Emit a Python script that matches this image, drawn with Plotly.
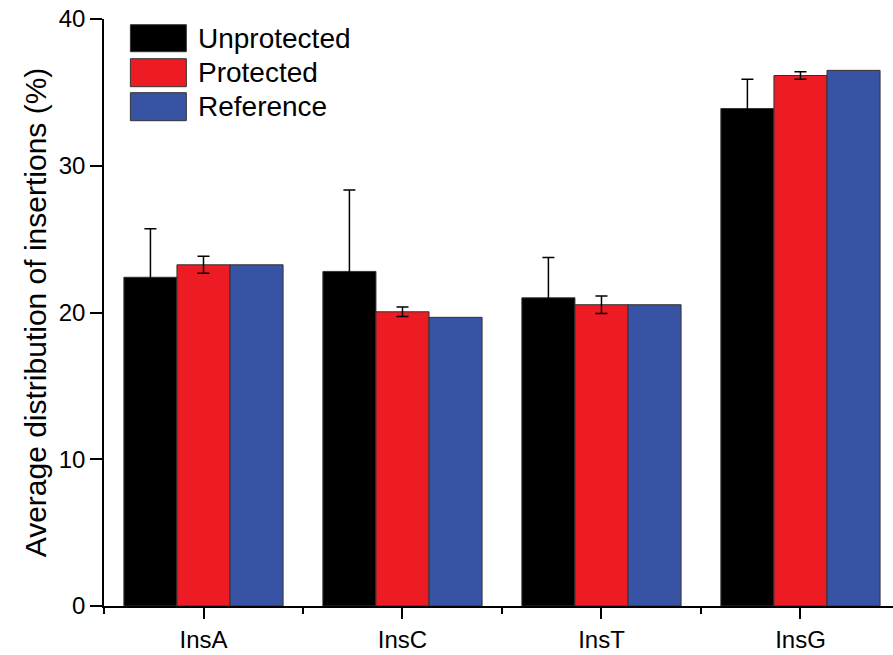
import plotly.graph_objects as go

categories = ["InsA", "InsC", "InsT", "InsG"]
series_names = ["Unprotected", "Protected", "Reference"]
unprotected = [22.4, 22.8, 21.0, 33.9]
unprotected_err = [3.3, 5.55, 2.75, 2.0]
protected = [23.25, 20.05, 20.53, 36.15]
protected_err = [0.58, 0.32, 0.6, 0.25]
reference = [23.25, 19.67, 20.53, 36.5]
y_ticks = [0, 10, 20, 30, 40]

colors = ["#000000", "#ED1C24", "#3953A4"]
W, H = 893, 655
L, R, T, B = 103.6, 893, 19.3, 606.3

xpos = list(range(len(categories)))

fig = go.Figure()
vals = [unprotected, protected, reference]
errs = [unprotected_err, protected_err, None]
for name, v, e, c in zip(series_names, vals, errs, colors):
    kw = {}
    if e is not None:
        kw["error_y"] = dict(type="data", array=e, visible=True, color="#000000",
                             thickness=1.5, width=6)
    fig.add_trace(go.Bar(x=xpos, y=v, name=name, marker=dict(color=c, line=dict(color="#333333", width=1)),
                         showlegend=False, **kw))

def px(x):
    return (x - L) / (R - L)

def py(y):
    return (B - y) / (B - T)

# custom legend
rows = [(25, 52), (59, 87), (93, 121)]
for (y0, y1), name, c in zip(rows, series_names, colors):
    fig.add_shape(type="rect", xref="paper", yref="paper", x0=px(130), x1=px(186),
                  y0=py(y1), y1=py(y0), fillcolor=c, line=dict(color="#333333", width=1))
    fig.add_annotation(xref="paper", yref="paper", x=px(196), y=py((y0 + y1) / 2),
                       text=name, showarrow=False, xanchor="left", yanchor="middle",
                       font=dict(size=28, color="#000000"))

fig.update_layout(
    width=W, height=H,
    margin=dict(l=L, r=W - R, t=T, b=H - B, pad=0),
    paper_bgcolor="white", plot_bgcolor="white",
    barmode="group", bargap=0.2, bargroupgap=0,
    font=dict(family="Liberation Sans, Arial, sans-serif", color="#000000"),
    xaxis=dict(range=[-0.5, 3.465], tickvals=xpos, ticktext=categories,
               ticks="outside", ticklen=11, tickwidth=1.5, tickcolor="#000",
               showline=True, linecolor="#000", linewidth=1.5, showgrid=False, zeroline=False,
               tickfont=dict(size=24),
               minor=dict(tickvals=[-0.5, 0.5, 1.5, 2.5], ticks="outside", ticklen=6,
                          tickwidth=1.5, tickcolor="#000", showgrid=False)),
    yaxis=dict(range=[0, 40], tickvals=y_ticks, ticks="outside", ticklen=12, tickwidth=1.5,
               tickcolor="#000", showline=True, linecolor="#000", linewidth=1.5,
               showgrid=False, zeroline=False, tickfont=dict(size=24),
               title=dict(text="Average distribution of insertions (%)", font=dict(size=30),
                          standoff=3)),
)

fig.write_html("out.html")
